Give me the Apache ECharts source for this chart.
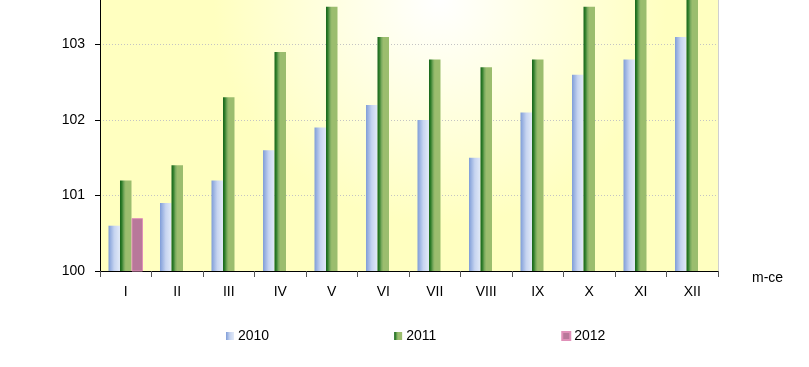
<!DOCTYPE html>
<html>
<head>
<meta charset="utf-8">
<script src="https://cdn.jsdelivr.net/npm/echarts@6/dist/echarts.min.js"></script>
<style>html,body{margin:0;padding:0;background:#fff;overflow:hidden;width:809px;height:367px}#c{width:809px;height:398px;position:absolute;left:0;top:-31px}</style>
</head>
<body>
<div id="c"></div>
<script>
var categories = ['I','II','III','IV','V','VI','VII','VIII','IX','X','XI','XII'];
var s2010 = [100.6,100.9,101.2,101.6,101.9,102.2,102.0,101.5,102.1,102.6,102.8,103.1];
var s2011 = [101.2,101.4,102.3,102.9,103.5,103.1,102.8,102.7,102.8,103.5,103.8,103.7];
var s2012 = [100.7,null,null,null,null,null,null,null,null,null,null,null];
var yTicks = {min:100, max:104, interval:1};

var G = echarts.graphic;
var font = 'Liberation Sans, Arial, sans-serif';
var chart = echarts.init(document.getElementById('c'));
chart.setOption({
  animation:false,
  textStyle:{fontFamily:font},
  grid:{left:100,right:91,top:0,bottom:96,show:true,borderWidth:0,outerBoundsMode:'none',containLabel:false,
    backgroundColor:new G.RadialGradient(0.55,0.1,0.75,[{offset:0,color:'#ffffff'},{offset:1,color:'#ffffc0'}])},
  legend:{left:221,top:355,itemWidth:8,itemHeight:8,itemGap:125,icon:'rect',
    textStyle:{fontSize:14,color:'#000',fontFamily:font,padding:[0,0,0,-1]}},
  xAxis:{type:'category',data:categories,
    axisLine:{lineStyle:{color:'#000',width:1}},
    axisTick:{show:true,length:6,lineStyle:{color:'#555'}},
    axisLabel:{fontSize:14,color:'#000',margin:14},
    name:'m-ce',nameLocation:'end',nameGap:34,
    nameTextStyle:{fontSize:14,color:'#000',verticalAlign:'top'}},
  yAxis:{type:'value',min:yTicks.min,max:yTicks.max,interval:yTicks.interval,
    axisLine:{show:true,lineStyle:{color:'#000'}},
    axisTick:{show:true,length:5,lineStyle:{color:'#000'}},
    axisLabel:{fontSize:14,color:'#000',margin:15},
    splitLine:{lineStyle:{color:'#c4c4c4',type:[1,2]}}},
  graphic:[{type:'line',shape:{x1:718.5,y1:0,x2:718.5,y2:302},style:{stroke:'#d0d0d0',lineWidth:1},z:10}],
  series:[
    {name:'2010',type:'bar',data:s2010,barGap:'0%',barCategoryGap:'33%',
      itemStyle:{color:new G.LinearGradient(0,0,1,0,[{offset:0,color:'#7f9dd8'},{offset:0.5,color:'#c6d4f0'},{offset:1,color:'#e2eaf8'}])}},
    {name:'2011',type:'bar',data:s2011,
      itemStyle:{color:new G.LinearGradient(0,0,1,0,[{offset:0,color:'#16641a'},{offset:0.15,color:'#2e7d2a'},{offset:0.35,color:'#7aaa5e'},{offset:0.5,color:'#9bbd6e'},{offset:1,color:'#9bbd6e'}])}},
    {name:'2012',type:'bar',data:s2012,
      itemStyle:{color:'#b8789a',borderColor:'#e090b8',borderWidth:1}}
  ]
});
</script>
</body>
</html>
